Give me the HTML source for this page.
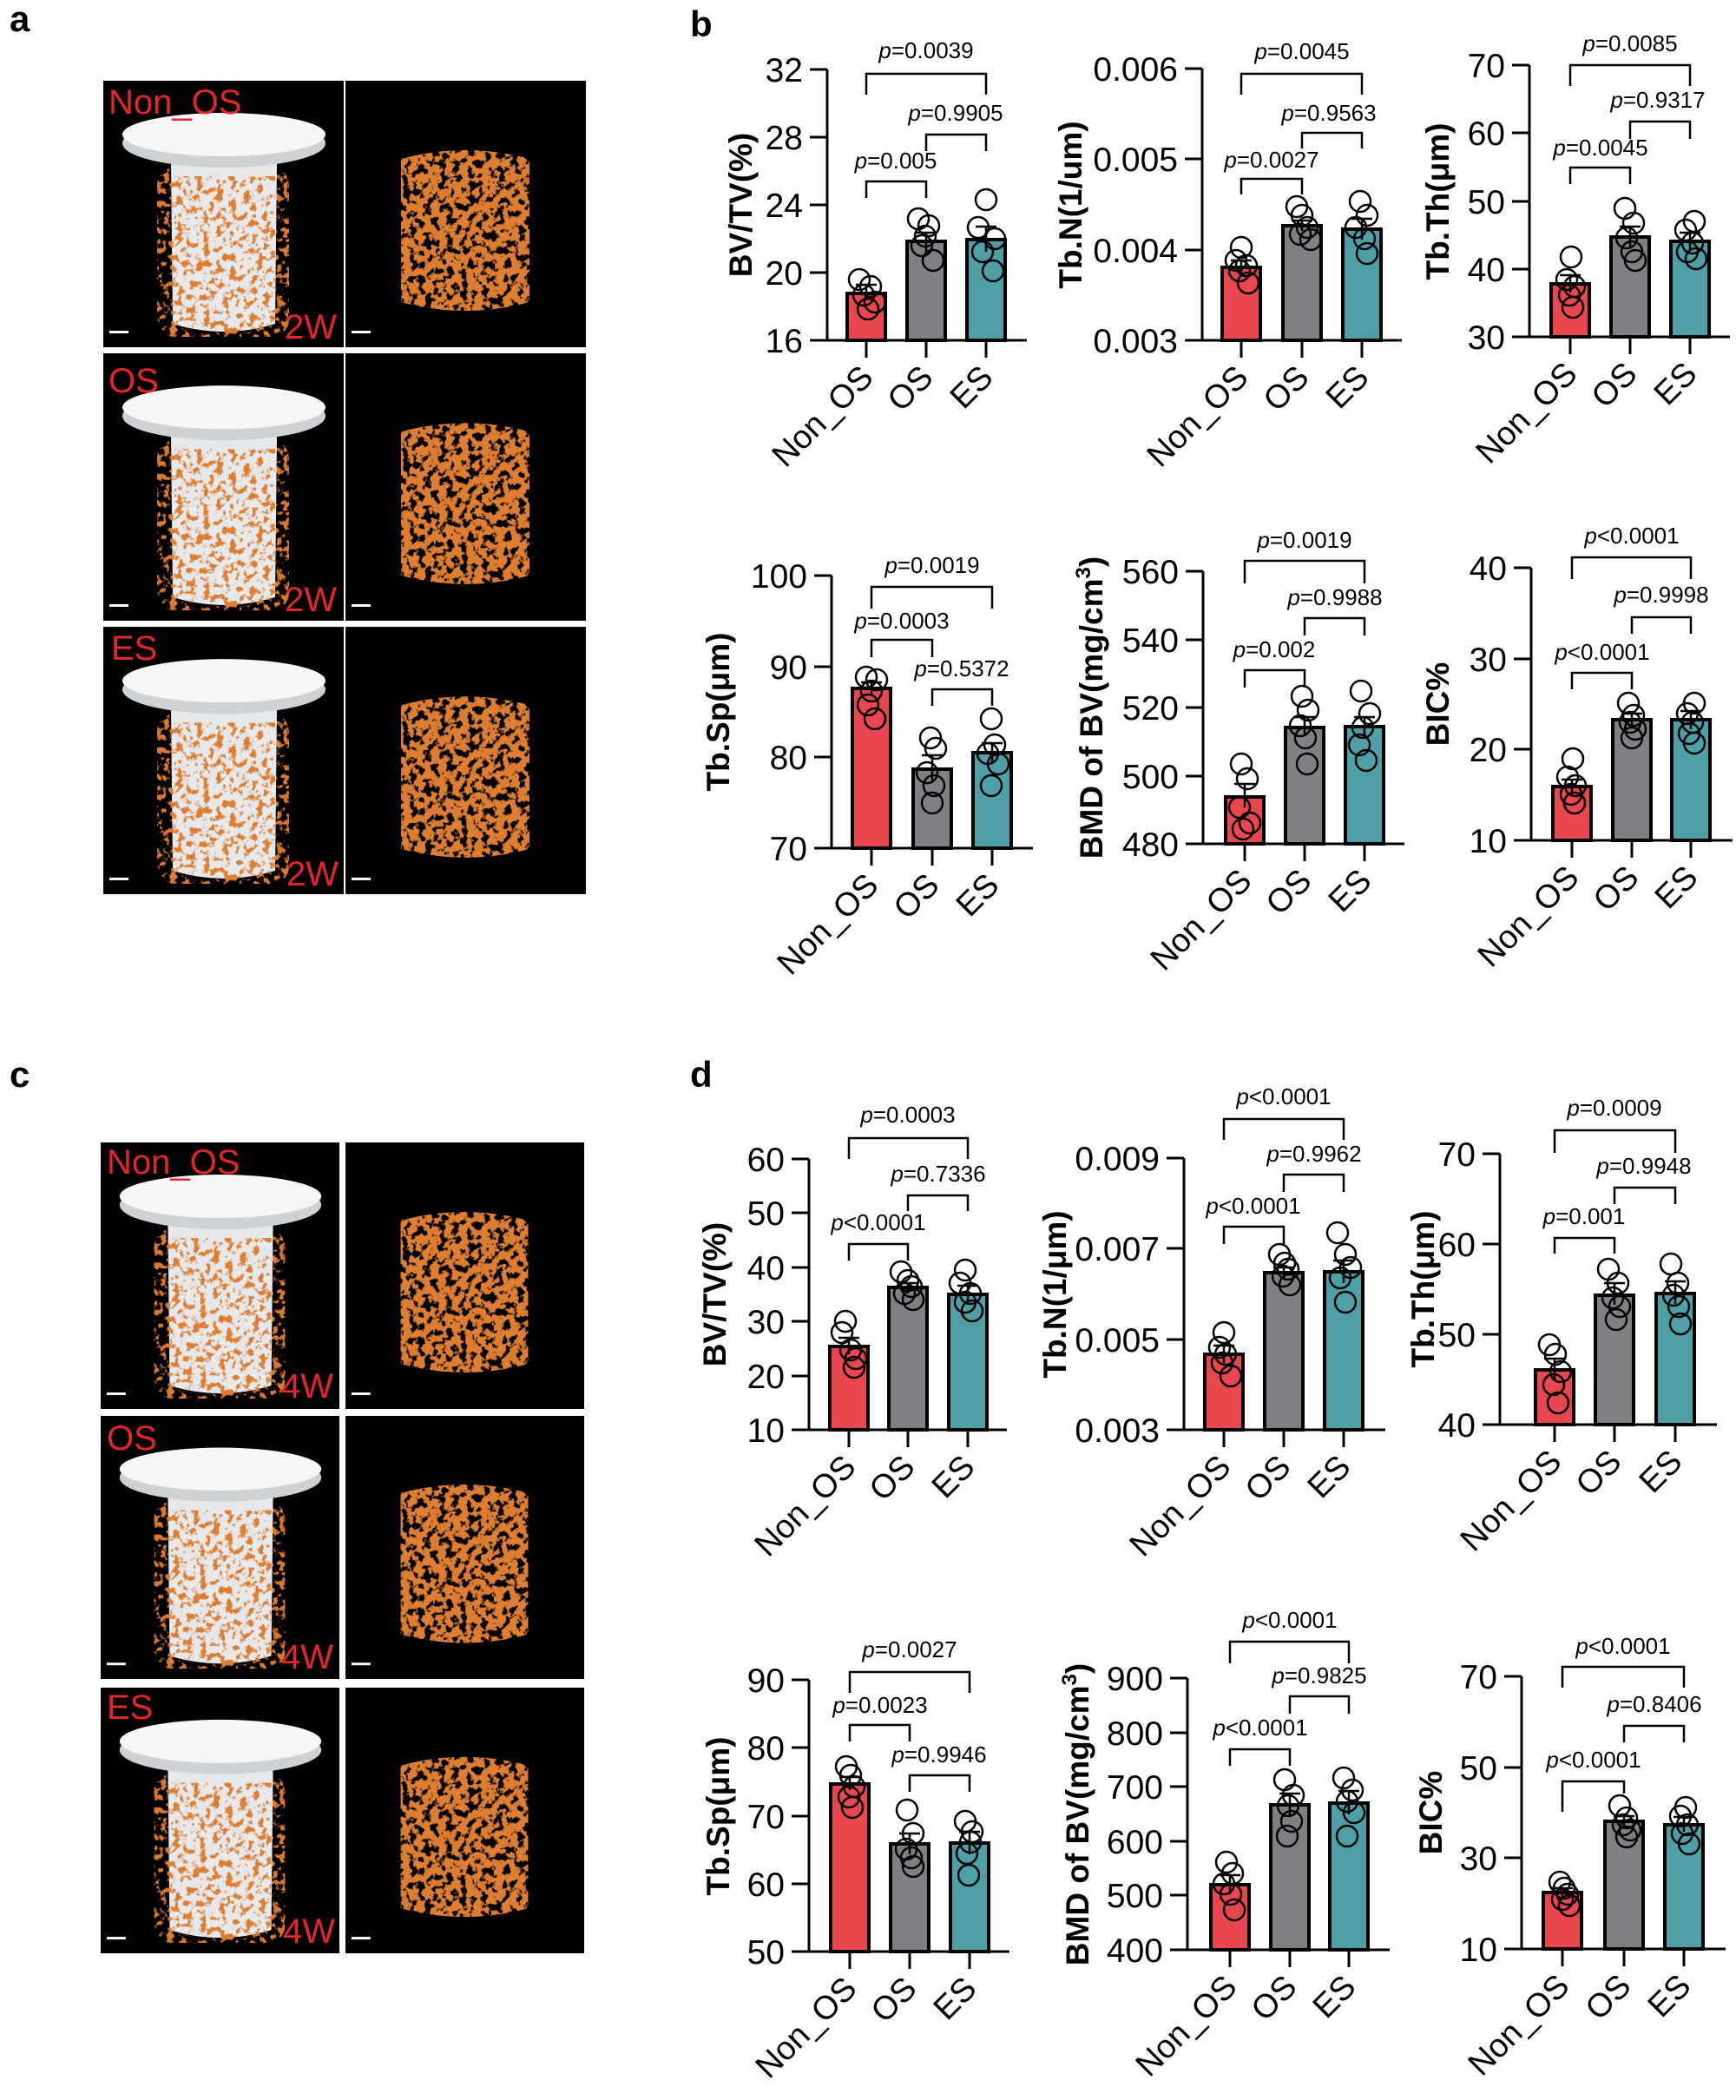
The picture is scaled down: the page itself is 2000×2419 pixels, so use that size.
<!DOCTYPE html>
<html><head><meta charset="utf-8"><style>
html,body{margin:0;padding:0;background:#fff;}
svg{display:block;}
text{font-family:"Liberation Sans",Arial,sans-serif;}
.t{font-size:39px;}
.pv{font-size:26px;}
.yl{font-size:37px;font-weight:bold;}
.xl{font-size:38px;}
.pl{font-size:42px;font-weight:bold;}
.il{font-size:40px;fill:#e3262b;}
.ax{stroke:#000;stroke-width:3;fill:none;}
.br{stroke:#000;stroke-width:2.5;fill:none;}
.pt{stroke:#000;stroke-width:2.5;fill:none;}
.r{fill:#e8474f;stroke:#000;stroke-width:4;}
.g{fill:#7f8083;stroke:#000;stroke-width:4;}
.c{fill:#4fa0a6;stroke:#000;stroke-width:4;}
</style></head><body>
<svg width="2000" height="2419" viewBox="0 0 2000 2419" xmlns="http://www.w3.org/2000/svg">
<defs>
<filter id="spk" x="0" y="0" width="1" height="1" filterUnits="objectBoundingBox">
<feTurbulence type="fractalNoise" baseFrequency="0.13" numOctaves="3" seed="4" result="n"/>
<feColorMatrix in="n" type="matrix" values="0 0 0 0 0 0 0 0 0 0 0 0 0 0 0 10 0 0 0 -5.2" result="m"/>
<feComposite in="SourceGraphic" in2="m" operator="in"/>
</filter>
<filter id="spk2" x="0" y="0" width="1" height="1" filterUnits="objectBoundingBox">
<feTurbulence type="fractalNoise" baseFrequency="0.12" numOctaves="3" seed="9" result="n"/>
<feColorMatrix in="n" type="matrix" values="0 0 0 0 0 0 0 0 0 0 0 0 0 0 0 10 0 0 0 -3.9" result="m"/>
<feComposite in="SourceGraphic" in2="m" operator="in"/>
</filter>
<symbol id="imL" viewBox="0 0 277 307" preserveAspectRatio="none">
<rect width="277" height="307" fill="#000"/>
<rect x="62" y="100" width="152" height="195" rx="20" fill="#d9782e" filter="url(#spk)"/>
<path d="M78 95 L200 95 L198 280 Q139 298 80 280 Z" fill="#e6e8ea"/>
<rect x="78" y="110" width="120" height="180" fill="#dd7e32" filter="url(#spk)"/>
<ellipse cx="139" cy="72" rx="117" ry="28" fill="#cfd2d4"/>
<ellipse cx="139" cy="62" rx="117" ry="25" fill="#f6f6f6"/>
<rect x="7" y="288" width="22" height="3" fill="#fff"/>
</symbol>
<symbol id="imR" viewBox="0 0 277 307" preserveAspectRatio="none">
<rect width="277" height="307" fill="#000"/>
<path d="M64 90 Q138 70 212 90 L212 255 Q138 275 64 255 Z" fill="#dd7e32" filter="url(#spk2)"/>
<rect x="7" y="288" width="22" height="3" fill="#fff"/>
</symbol>
</defs>

<text x="11" y="36" class="pl">a</text>
<text x="795" y="42" class="pl">b</text>
<text x="11" y="1252" class="pl">c</text>
<text x="795" y="1252" class="pl">d</text>

<use href="#imL" x="119" y="93" width="277" height="307"/>
<use href="#imR" x="398" y="93" width="277" height="307"/>
<use href="#imL" x="119" y="407" width="277" height="308"/>
<use href="#imR" x="398" y="407" width="277" height="308"/>
<use href="#imL" x="119" y="722" width="277" height="308"/>
<use href="#imR" x="398" y="722" width="277" height="308"/>
<text x="125" y="131" class="il">Non_OS</text>
<text x="388" y="390" class="il" text-anchor="end">2W</text>
<text x="125" y="452" class="il">OS</text>
<text x="388" y="704" class="il" text-anchor="end">2W</text>
<text x="128" y="760" class="il">ES</text>
<text x="390" y="1020" class="il" text-anchor="end">2W</text>

<use href="#imL" x="116" y="1316" width="275" height="307"/>
<use href="#imR" x="398" y="1316" width="275" height="307"/>
<use href="#imL" x="116" y="1631" width="275" height="303"/>
<use href="#imR" x="398" y="1631" width="275" height="303"/>
<use href="#imL" x="116" y="1944" width="275" height="306"/>
<use href="#imR" x="398" y="1944" width="275" height="306"/>
<text x="123" y="1352" class="il">Non_OS</text>
<text x="384" y="1610" class="il" text-anchor="end">4W</text>
<text x="123" y="1670" class="il">OS</text>
<text x="384" y="1922" class="il" text-anchor="end">4W</text>
<text x="123" y="1980" class="il">ES</text>
<text x="386" y="2238" class="il" text-anchor="end">4W</text>

<g>
<path class="ax" d="M953 80 V392 H1183 M933 80 H953 M933 158 H953 M933 236 H953 M933 314 H953 M933 392 H953 M998 392 V412 M1067 392 V412 M1136 392 V412"/>
<text class="t" text-anchor="end" x="925" y="94">32</text><text class="t" text-anchor="end" x="925" y="172">28</text><text class="t" text-anchor="end" x="925" y="250">24</text><text class="t" text-anchor="end" x="925" y="328">20</text><text class="t" text-anchor="end" x="925" y="406">16</text>
<rect class="r" x="976" y="338" width="44" height="54"/><rect class="g" x="1045" y="278" width="44" height="114"/><rect class="c" x="1114" y="276" width="44" height="116"/>
<path class="br" d="M986 328 H1010 M998 328 V345 M1055 268 H1079 M1067 268 V290 M1124 261 H1148 M1136 261 V290"/>
<g class="pt"><circle cx="990" cy="322" r="12"/><circle cx="1003" cy="330" r="12"/><circle cx="995" cy="340" r="12"/><circle cx="1008" cy="348" r="12"/><circle cx="1000" cy="356" r="12"/>
<circle cx="1058" cy="252" r="12"/><circle cx="1070" cy="260" r="12"/><circle cx="1062" cy="283" r="12"/><circle cx="1075" cy="300" r="12"/><circle cx="1066" cy="272" r="12"/>
<circle cx="1136" cy="230" r="12"/><circle cx="1127" cy="262" r="12"/><circle cx="1146" cy="275" r="12"/><circle cx="1132" cy="290" r="12"/><circle cx="1144" cy="312" r="12"/></g>
<path class="br" d="M998 109 V85 H1136 V109 M1067 174 V155 H1136 V174 M998 228 V209 H1067 V228"/>
<text class="pv" text-anchor="middle" x="1067" y="67"><tspan font-style="italic">p</tspan>=0.0039</text>
<text class="pv" text-anchor="middle" x="1101" y="139"><tspan font-style="italic">p</tspan>=0.9905</text>
<text class="pv" text-anchor="middle" x="1032" y="194"><tspan font-style="italic">p</tspan>=0.005</text>
<text class="yl" text-anchor="middle" transform="translate(866,236) rotate(-90)">BV/TV(%)</text>
<g class="xl" text-anchor="end"><text transform="translate(1008,437) rotate(-45)">Non_OS</text><text transform="translate(1077,437) rotate(-45)">OS</text><text transform="translate(1146,437) rotate(-45)">ES</text></g>
</g>

<g>
<path class="ax" d="M1385 79 V392 H1615 M1365 79 H1385 M1365 183 H1385 M1365 288 H1385 M1365 392 H1385 M1430 392 V412 M1500 392 V412 M1569 392 V412"/>
<text class="t" text-anchor="end" x="1357" y="93">0.006</text><text class="t" text-anchor="end" x="1357" y="197">0.005</text><text class="t" text-anchor="end" x="1357" y="302">0.004</text><text class="t" text-anchor="end" x="1357" y="406">0.003</text>
<rect class="r" x="1408" y="308" width="44" height="84"/><rect class="g" x="1478" y="260" width="44" height="132"/><rect class="c" x="1547" y="264" width="44" height="128"/>
<path class="br" d="M1418 300 H1442 M1430 300 V316 M1488 254 H1512 M1500 254 V266 M1557 252 H1581 M1569 252 V276"/>
<g class="pt"><circle cx="1430" cy="285" r="12"/><circle cx="1424" cy="300" r="12"/><circle cx="1436" cy="306" r="12"/><circle cx="1428" cy="312" r="12"/><circle cx="1438" cy="326" r="12"/>
<circle cx="1494" cy="238" r="12"/><circle cx="1500" cy="248" r="12"/><circle cx="1506" cy="262" r="12"/><circle cx="1498" cy="270" r="12"/><circle cx="1510" cy="276" r="12"/>
<circle cx="1567" cy="232" r="12"/><circle cx="1575" cy="248" r="12"/><circle cx="1562" cy="262" r="12"/><circle cx="1572" cy="275" r="12"/><circle cx="1575" cy="292" r="12"/></g>
<path class="br" d="M1430 109 V85 H1569 V109 M1500 171 V153 H1569 V171 M1430 224 V206 H1500 V224"/>
<text class="pv" text-anchor="middle" x="1500" y="68"><tspan font-style="italic">p</tspan>=0.0045</text>
<text class="pv" text-anchor="middle" x="1531" y="139"><tspan font-style="italic">p</tspan>=0.9563</text>
<text class="pv" text-anchor="middle" x="1465" y="193"><tspan font-style="italic">p</tspan>=0.0027</text>
<text class="yl" text-anchor="middle" transform="translate(1246,236) rotate(-90)">Tb.N(1/um)</text>
<g class="xl" text-anchor="end"><text transform="translate(1440,437) rotate(-45)">Non_OS</text><text transform="translate(1510,437) rotate(-45)">OS</text><text transform="translate(1579,437) rotate(-45)">ES</text></g>
</g>

<g>
<path class="ax" d="M1762 75 V388 H1993 M1742 75 H1762 M1742 153 H1762 M1742 232 H1762 M1742 310 H1762 M1742 388 H1762 M1809 388 V408 M1878 388 V408 M1947 388 V408"/>
<text class="t" text-anchor="end" x="1734" y="89">70</text><text class="t" text-anchor="end" x="1734" y="167">60</text><text class="t" text-anchor="end" x="1734" y="246">50</text><text class="t" text-anchor="end" x="1734" y="324">40</text><text class="t" text-anchor="end" x="1734" y="402">30</text>
<rect class="r" x="1787" y="327" width="44" height="61"/><rect class="g" x="1856" y="273" width="44" height="115"/><rect class="c" x="1925" y="278" width="44" height="110"/>
<path class="br" d="M1797 317 H1821 M1809 317 V337 M1866 261 H1890 M1878 261 V285 M1935 268 H1959 M1947 268 V288"/>
<g class="pt"><circle cx="1810" cy="296" r="12"/><circle cx="1805" cy="322" r="12"/><circle cx="1814" cy="330" r="12"/><circle cx="1808" cy="340" r="12"/><circle cx="1812" cy="354" r="12"/>
<circle cx="1872" cy="240" r="12"/><circle cx="1882" cy="257" r="12"/><circle cx="1874" cy="274" r="12"/><circle cx="1880" cy="290" r="12"/><circle cx="1884" cy="300" r="12"/>
<circle cx="1952" cy="255" r="12"/><circle cx="1942" cy="265" r="12"/><circle cx="1950" cy="280" r="12"/><circle cx="1944" cy="290" r="12"/><circle cx="1954" cy="298" r="12"/></g>
<path class="br" d="M1809 99 V75 H1947 V99 M1878 160 V140 H1947 V160 M1809 212 V193 H1878 V212"/>
<text class="pv" text-anchor="middle" x="1878" y="59"><tspan font-style="italic">p</tspan>=0.0085</text>
<text class="pv" text-anchor="middle" x="1910" y="124"><tspan font-style="italic">p</tspan>=0.9317</text>
<text class="pv" text-anchor="middle" x="1844" y="179"><tspan font-style="italic">p</tspan>=0.0045</text>
<text class="yl" text-anchor="middle" transform="translate(1669,232) rotate(-90)">Tb.Th(μm)</text>
<g class="xl" text-anchor="end"><text transform="translate(1819,433) rotate(-45)">Non_OS</text><text transform="translate(1888,433) rotate(-45)">OS</text><text transform="translate(1957,433) rotate(-45)">ES</text></g>
</g>

<g>
<path class="ax" d="M958 663 V977 H1190 M938 663 H958 M938 768 H958 M938 872 H958 M938 977 H958 M1004 977 V997 M1074 977 V997 M1143 977 V997"/>
<text class="t" text-anchor="end" x="930" y="677">100</text><text class="t" text-anchor="end" x="930" y="782">90</text><text class="t" text-anchor="end" x="930" y="886">80</text><text class="t" text-anchor="end" x="930" y="991">70</text>
<rect class="r" x="982" y="793" width="44" height="184"/><rect class="g" x="1052" y="886" width="44" height="91"/><rect class="c" x="1121" y="867" width="44" height="110"/>
<path class="br" d="M992 786 H1016 M1004 786 V800 M1062 870 H1086 M1074 870 V902 M1131 856 H1155 M1143 856 V878"/>
<g class="pt"><circle cx="998" cy="780" r="12"/><circle cx="1010" cy="783" r="12"/><circle cx="1004" cy="796" r="12"/><circle cx="1000" cy="812" r="12"/><circle cx="1008" cy="828" r="12"/>
<circle cx="1072" cy="850" r="12"/><circle cx="1078" cy="862" r="12"/><circle cx="1068" cy="890" r="12"/><circle cx="1076" cy="905" r="12"/><circle cx="1074" cy="925" r="12"/>
<circle cx="1142" cy="828" r="12"/><circle cx="1146" cy="858" r="12"/><circle cx="1138" cy="868" r="12"/><circle cx="1150" cy="880" r="12"/><circle cx="1142" cy="905" r="12"/></g>
<path class="br" d="M1004 701 V676 H1143 V701 M1004 757 V737 H1074 V757 M1074 813 V794 H1143 V813"/>
<text class="pv" text-anchor="middle" x="1074" y="660"><tspan font-style="italic">p</tspan>=0.0019</text>
<text class="pv" text-anchor="middle" x="1039" y="724"><tspan font-style="italic">p</tspan>=0.0003</text>
<text class="pv" text-anchor="middle" x="1108" y="779"><tspan font-style="italic">p</tspan>=0.5372</text>
<text class="yl" text-anchor="middle" transform="translate(840,820) rotate(-90)">Tb.Sp(μm)</text>
<g class="xl" text-anchor="end"><text transform="translate(1014,1022) rotate(-45)">Non_OS</text><text transform="translate(1084,1022) rotate(-45)">OS</text><text transform="translate(1153,1022) rotate(-45)">ES</text></g>
</g>

<g>
<path class="ax" d="M1386 658 V972 H1618 M1366 658 H1386 M1366 737 H1386 M1366 815 H1386 M1366 894 H1386 M1366 972 H1386 M1434 972 V992 M1503 972 V992 M1572 972 V992"/>
<text class="t" text-anchor="end" x="1358" y="672">560</text><text class="t" text-anchor="end" x="1358" y="751">540</text><text class="t" text-anchor="end" x="1358" y="829">520</text><text class="t" text-anchor="end" x="1358" y="908">500</text><text class="t" text-anchor="end" x="1358" y="986">480</text>
<rect class="r" x="1412" y="918" width="44" height="54"/><rect class="g" x="1481" y="838" width="44" height="134"/><rect class="c" x="1550" y="837" width="44" height="135"/>
<path class="br" d="M1422 903 H1446 M1434 903 V930 M1491 826 H1515 M1503 826 V848 M1560 826 H1584 M1572 826 V850"/>
<g class="pt"><circle cx="1430" cy="880" r="12"/><circle cx="1437" cy="897" r="12"/><circle cx="1428" cy="930" r="12"/><circle cx="1440" cy="948" r="12"/><circle cx="1432" cy="955" r="12"/>
<circle cx="1500" cy="802" r="12"/><circle cx="1507" cy="818" r="12"/><circle cx="1498" cy="836" r="12"/><circle cx="1504" cy="850" r="12"/><circle cx="1506" cy="880" r="12"/>
<circle cx="1568" cy="796" r="12"/><circle cx="1578" cy="822" r="12"/><circle cx="1570" cy="838" r="12"/><circle cx="1566" cy="858" r="12"/><circle cx="1574" cy="876" r="12"/></g>
<path class="br" d="M1434 672 V646 H1572 V672 M1503 732 V712 H1572 V732 M1434 792 V772 H1503 V792"/>
<text class="pv" text-anchor="middle" x="1503" y="631"><tspan font-style="italic">p</tspan>=0.0019</text>
<text class="pv" text-anchor="middle" x="1538" y="697"><tspan font-style="italic">p</tspan>=0.9988</text>
<text class="pv" text-anchor="middle" x="1468" y="757"><tspan font-style="italic">p</tspan>=0.002</text>
<text class="yl" text-anchor="middle" transform="translate(1270,815) rotate(-90)">BMD of BV(mg/cm<tspan dy="-14" font-size="24">3</tspan><tspan dy="14">)</tspan></text>
<g class="xl" text-anchor="end"><text transform="translate(1444,1017) rotate(-45)">Non_OS</text><text transform="translate(1513,1017) rotate(-45)">OS</text><text transform="translate(1582,1017) rotate(-45)">ES</text></g>
</g>

<g>
<path class="ax" d="M1764 654 V968 H1996 M1744 654 H1764 M1744 759 H1764 M1744 863 H1764 M1744 968 H1764 M1811 968 V988 M1880 968 V988 M1948 968 V988"/>
<text class="t" text-anchor="end" x="1736" y="668">40</text><text class="t" text-anchor="end" x="1736" y="773">30</text><text class="t" text-anchor="end" x="1736" y="877">20</text><text class="t" text-anchor="end" x="1736" y="982">10</text>
<rect class="r" x="1789" y="906" width="44" height="62"/><rect class="g" x="1858" y="829" width="44" height="139"/><rect class="c" x="1926" y="829" width="44" height="139"/>
<path class="br" d="M1799 898 H1823 M1811 898 V914 M1868 822 H1892 M1880 822 V836 M1936 819 H1960 M1948 819 V840"/>
<g class="pt"><circle cx="1812" cy="874" r="12"/><circle cx="1806" cy="895" r="12"/><circle cx="1815" cy="905" r="12"/><circle cx="1810" cy="915" r="12"/><circle cx="1814" cy="925" r="12"/>
<circle cx="1876" cy="810" r="12"/><circle cx="1882" cy="824" r="12"/><circle cx="1878" cy="832" r="12"/><circle cx="1884" cy="840" r="12"/><circle cx="1880" cy="850" r="12"/>
<circle cx="1952" cy="810" r="12"/><circle cx="1944" cy="822" r="12"/><circle cx="1950" cy="832" r="12"/><circle cx="1946" cy="845" r="12"/><circle cx="1952" cy="856" r="12"/></g>
<path class="br" d="M1811 667 V642 H1948 V667 M1880 730 V711 H1948 V730 M1811 794 V775 H1880 V794"/>
<text class="pv" text-anchor="middle" x="1880" y="626"><tspan font-style="italic">p</tspan>&lt;0.0001</text>
<text class="pv" text-anchor="middle" x="1914" y="694"><tspan font-style="italic">p</tspan>=0.9998</text>
<text class="pv" text-anchor="middle" x="1846" y="760"><tspan font-style="italic">p</tspan>&lt;0.0001</text>
<text class="yl" text-anchor="middle" transform="translate(1669,811) rotate(-90)">BIC%</text>
<g class="xl" text-anchor="end"><text transform="translate(1821,1013) rotate(-45)">Non_OS</text><text transform="translate(1890,1013) rotate(-45)">OS</text><text transform="translate(1958,1013) rotate(-45)">ES</text></g>
</g>

<g>
<path class="ax" d="M932 1335 V1647 H1160 M912 1335 H932 M912 1397 H932 M912 1460 H932 M912 1522 H932 M912 1585 H932 M912 1647 H932 M978 1647 V1667 M1046 1647 V1667 M1115 1647 V1667"/>
<text class="t" text-anchor="end" x="904" y="1349">60</text><text class="t" text-anchor="end" x="904" y="1411">50</text><text class="t" text-anchor="end" x="904" y="1474">40</text><text class="t" text-anchor="end" x="904" y="1536">30</text><text class="t" text-anchor="end" x="904" y="1599">20</text><text class="t" text-anchor="end" x="904" y="1661">10</text>
<rect class="r" x="956" y="1551" width="44" height="96"/><rect class="g" x="1024" y="1483" width="44" height="164"/><rect class="c" x="1093" y="1491" width="44" height="156"/>
<path class="br" d="M966 1541 H990 M978 1541 V1560 M1034 1478 H1058 M1046 1478 V1490 M1103 1481 H1127 M1115 1481 V1500"/>
<g class="pt"><circle cx="974" cy="1522" r="12"/><circle cx="970" cy="1535" r="12"/><circle cx="980" cy="1555" r="12"/><circle cx="986" cy="1565" r="12"/><circle cx="984" cy="1575" r="12"/>
<circle cx="1038" cy="1465" r="12"/><circle cx="1046" cy="1475" r="12"/><circle cx="1050" cy="1482" r="12"/><circle cx="1042" cy="1490" r="12"/><circle cx="1052" cy="1497" r="12"/>
<circle cx="1112" cy="1463" r="12"/><circle cx="1106" cy="1478" r="12"/><circle cx="1118" cy="1490" r="12"/><circle cx="1112" cy="1500" r="12"/><circle cx="1120" cy="1510" r="12"/></g>
<path class="br" d="M978 1335 V1311 H1115 V1335 M1046 1395 V1377 H1115 V1395 M978 1452 V1433 H1046 V1452"/>
<text class="pv" text-anchor="middle" x="1046" y="1293"><tspan font-style="italic">p</tspan>=0.0003</text>
<text class="pv" text-anchor="middle" x="1081" y="1361"><tspan font-style="italic">p</tspan>=0.7336</text>
<text class="pv" text-anchor="middle" x="1012" y="1417"><tspan font-style="italic">p</tspan>&lt;0.0001</text>
<text class="yl" text-anchor="middle" transform="translate(836,1491) rotate(-90)">BV/TV(%)</text>
<g class="xl" text-anchor="end"><text transform="translate(988,1692) rotate(-45)">Non_OS</text><text transform="translate(1056,1692) rotate(-45)">OS</text><text transform="translate(1125,1692) rotate(-45)">ES</text></g>
</g>

<g>
<path class="ax" d="M1364 1334 V1647 H1596 M1344 1334 H1364 M1344 1438 H1364 M1344 1543 H1364 M1344 1647 H1364 M1410 1647 V1667 M1479 1647 V1667 M1548 1647 V1667"/>
<text class="t" text-anchor="end" x="1336" y="1348">0.009</text><text class="t" text-anchor="end" x="1336" y="1452">0.007</text><text class="t" text-anchor="end" x="1336" y="1557">0.005</text><text class="t" text-anchor="end" x="1336" y="1661">0.003</text>
<rect class="r" x="1388" y="1560" width="44" height="87"/><rect class="g" x="1457" y="1466" width="44" height="181"/><rect class="c" x="1526" y="1465" width="44" height="182"/>
<path class="br" d="M1398 1550 H1422 M1410 1550 V1570 M1467 1460 H1491 M1479 1460 V1472 M1536 1452 H1560 M1548 1452 V1478"/>
<g class="pt"><circle cx="1410" cy="1535" r="12"/><circle cx="1405" cy="1552" r="12"/><circle cx="1412" cy="1560" r="12"/><circle cx="1408" cy="1570" r="12"/><circle cx="1418" cy="1585" r="12"/>
<circle cx="1474" cy="1445" r="12"/><circle cx="1480" cy="1455" r="12"/><circle cx="1484" cy="1462" r="12"/><circle cx="1478" cy="1470" r="12"/><circle cx="1486" cy="1480" r="12"/>
<circle cx="1541" cy="1420" r="12"/><circle cx="1550" cy="1445" r="12"/><circle cx="1556" cy="1460" r="12"/><circle cx="1544" cy="1472" r="12"/><circle cx="1550" cy="1500" r="12"/></g>
<path class="br" d="M1410 1313 V1289 H1548 V1313 M1479 1373 V1353 H1548 V1373 M1410 1433 V1413 H1479 V1433"/>
<text class="pv" text-anchor="middle" x="1479" y="1272"><tspan font-style="italic">p</tspan>&lt;0.0001</text>
<text class="pv" text-anchor="middle" x="1514" y="1338"><tspan font-style="italic">p</tspan>=0.9962</text>
<text class="pv" text-anchor="middle" x="1444" y="1398"><tspan font-style="italic">p</tspan>&lt;0.0001</text>
<text class="yl" text-anchor="middle" transform="translate(1228,1491) rotate(-90)">Tb.N(1/μm)</text>
<g class="xl" text-anchor="end"><text transform="translate(1420,1692) rotate(-45)">Non_OS</text><text transform="translate(1489,1692) rotate(-45)">OS</text><text transform="translate(1558,1692) rotate(-45)">ES</text></g>
</g>

<g>
<path class="ax" d="M1728 1329 V1641 H1978 M1708 1329 H1728 M1708 1433 H1728 M1708 1537 H1728 M1708 1641 H1728 M1791 1641 V1661 M1860 1641 V1661 M1930 1641 V1661"/>
<text class="t" text-anchor="end" x="1700" y="1343">70</text><text class="t" text-anchor="end" x="1700" y="1447">60</text><text class="t" text-anchor="end" x="1700" y="1551">50</text><text class="t" text-anchor="end" x="1700" y="1655">40</text>
<rect class="r" x="1769" y="1578" width="44" height="63"/><rect class="g" x="1838" y="1492" width="44" height="149"/><rect class="c" x="1908" y="1490" width="44" height="151"/>
<path class="br" d="M1779 1565 H1803 M1791 1565 V1590 M1848 1478 H1872 M1860 1478 V1503 M1918 1476 H1942 M1930 1476 V1502"/>
<g class="pt"><circle cx="1785" cy="1549" r="12"/><circle cx="1792" cy="1560" r="12"/><circle cx="1798" cy="1580" r="12"/><circle cx="1790" cy="1595" r="12"/><circle cx="1795" cy="1616" r="12"/>
<circle cx="1853" cy="1462" r="12"/><circle cx="1864" cy="1478" r="12"/><circle cx="1858" cy="1495" r="12"/><circle cx="1866" cy="1505" r="12"/><circle cx="1862" cy="1520" r="12"/>
<circle cx="1925" cy="1456" r="12"/><circle cx="1933" cy="1478" r="12"/><circle cx="1928" cy="1492" r="12"/><circle cx="1934" cy="1505" r="12"/><circle cx="1936" cy="1525" r="12"/></g>
<path class="br" d="M1791 1328 V1302 H1930 V1328 M1860 1387 V1368 H1930 V1387 M1791 1444 V1426 H1860 V1444"/>
<text class="pv" text-anchor="middle" x="1860" y="1285"><tspan font-style="italic">p</tspan>=0.0009</text>
<text class="pv" text-anchor="middle" x="1894" y="1352"><tspan font-style="italic">p</tspan>=0.9948</text>
<text class="pv" text-anchor="middle" x="1825" y="1410"><tspan font-style="italic">p</tspan>=0.001</text>
<text class="yl" text-anchor="middle" transform="translate(1652,1485) rotate(-90)">Tb.Th(μm)</text>
<g class="xl" text-anchor="end"><text transform="translate(1801,1686) rotate(-45)">Non_OS</text><text transform="translate(1870,1686) rotate(-45)">OS</text><text transform="translate(1940,1686) rotate(-45)">ES</text></g>
</g>

<g>
<path class="ax" d="M932 1935 V2248 H1163 M912 1935 H932 M912 2013 H932 M912 2092 H932 M912 2170 H932 M912 2248 H932 M979 2248 V2268 M1048 2248 V2268 M1117 2248 V2268"/>
<text class="t" text-anchor="end" x="904" y="1949">90</text><text class="t" text-anchor="end" x="904" y="2027">80</text><text class="t" text-anchor="end" x="904" y="2106">70</text><text class="t" text-anchor="end" x="904" y="2184">60</text><text class="t" text-anchor="end" x="904" y="2262">50</text>
<rect class="r" x="957" y="2055" width="44" height="193"/><rect class="g" x="1026" y="2124" width="44" height="124"/><rect class="c" x="1095" y="2123" width="44" height="125"/>
<path class="br" d="M967 2047 H991 M979 2047 V2062 M1036 2112 H1060 M1048 2112 V2136 M1105 2110 H1129 M1117 2110 V2136"/>
<g class="pt"><circle cx="975" cy="2035" r="12"/><circle cx="980" cy="2045" r="12"/><circle cx="984" cy="2058" r="12"/><circle cx="978" cy="2070" r="12"/><circle cx="982" cy="2082" r="12"/>
<circle cx="1045" cy="2085" r="12"/><circle cx="1052" cy="2112" r="12"/><circle cx="1044" cy="2130" r="12"/><circle cx="1050" cy="2140" r="12"/><circle cx="1052" cy="2150" r="12"/>
<circle cx="1112" cy="2098" r="12"/><circle cx="1120" cy="2110" r="12"/><circle cx="1118" cy="2122" r="12"/><circle cx="1114" cy="2135" r="12"/><circle cx="1116" cy="2160" r="12"/></g>
<path class="br" d="M979 1950 V1926 H1117 V1950 M979 2006 V1987 H1048 V2006 M1048 2064 V2045 H1117 V2064"/>
<text class="pv" text-anchor="middle" x="1048" y="1909"><tspan font-style="italic">p</tspan>=0.0027</text>
<text class="pv" text-anchor="middle" x="1014" y="1973"><tspan font-style="italic">p</tspan>=0.0023</text>
<text class="pv" text-anchor="middle" x="1082" y="2030"><tspan font-style="italic">p</tspan>=0.9946</text>
<text class="yl" text-anchor="middle" transform="translate(840,2092) rotate(-90)">Tb.Sp(μm)</text>
<g class="xl" text-anchor="end"><text transform="translate(989,2293) rotate(-45)">Non_OS</text><text transform="translate(1058,2293) rotate(-45)">OS</text><text transform="translate(1127,2293) rotate(-45)">ES</text></g>
</g>

<g>
<path class="ax" d="M1368 1933 V2246 H1601 M1348 1933 H1368 M1348 1996 H1368 M1348 2058 H1368 M1348 2121 H1368 M1348 2183 H1368 M1348 2246 H1368 M1417 2246 V2266 M1486 2246 V2266 M1554 2246 V2266"/>
<text class="t" text-anchor="end" x="1340" y="1947">900</text><text class="t" text-anchor="end" x="1340" y="2010">800</text><text class="t" text-anchor="end" x="1340" y="2072">700</text><text class="t" text-anchor="end" x="1340" y="2135">600</text><text class="t" text-anchor="end" x="1340" y="2197">500</text><text class="t" text-anchor="end" x="1340" y="2260">400</text>
<rect class="r" x="1395" y="2171" width="44" height="75"/><rect class="g" x="1464" y="2079" width="44" height="167"/><rect class="c" x="1532" y="2077" width="44" height="169"/>
<path class="br" d="M1405 2160 H1429 M1417 2160 V2182 M1474 2066 H1498 M1486 2066 V2092 M1542 2063 H1566 M1554 2063 V2090"/>
<g class="pt"><circle cx="1413" cy="2145" r="12"/><circle cx="1420" cy="2158" r="12"/><circle cx="1410" cy="2170" r="12"/><circle cx="1418" cy="2182" r="12"/><circle cx="1422" cy="2200" r="12"/>
<circle cx="1480" cy="2050" r="12"/><circle cx="1490" cy="2068" r="12"/><circle cx="1484" cy="2080" r="12"/><circle cx="1488" cy="2098" r="12"/><circle cx="1483" cy="2115" r="12"/>
<circle cx="1548" cy="2048" r="12"/><circle cx="1558" cy="2062" r="12"/><circle cx="1552" cy="2075" r="12"/><circle cx="1560" cy="2088" r="12"/><circle cx="1552" cy="2115" r="12"/></g>
<path class="br" d="M1417 1916 V1891 H1554 V1916 M1486 1974 V1954 H1554 V1974 M1417 2034 V2015 H1486 V2034"/>
<text class="pv" text-anchor="middle" x="1486" y="1875"><tspan font-style="italic">p</tspan>&lt;0.0001</text>
<text class="pv" text-anchor="middle" x="1520" y="1939"><tspan font-style="italic">p</tspan>=0.9825</text>
<text class="pv" text-anchor="middle" x="1452" y="1999"><tspan font-style="italic">p</tspan>&lt;0.0001</text>
<text class="yl" text-anchor="middle" transform="translate(1254,2090) rotate(-90)">BMD of BV(mg/cm<tspan dy="-14" font-size="24">3</tspan><tspan dy="14">)</tspan></text>
<g class="xl" text-anchor="end"><text transform="translate(1427,2291) rotate(-45)">Non_OS</text><text transform="translate(1496,2291) rotate(-45)">OS</text><text transform="translate(1564,2291) rotate(-45)">ES</text></g>
</g>

<g>
<path class="ax" d="M1753 1931 V2245 H1988 M1733 1931 H1753 M1733 2036 H1753 M1733 2140 H1753 M1733 2245 H1753 M1800 2245 V2265 M1871 2245 V2265 M1940 2245 V2265"/>
<text class="t" text-anchor="end" x="1725" y="1945">70</text><text class="t" text-anchor="end" x="1725" y="2050">50</text><text class="t" text-anchor="end" x="1725" y="2154">30</text><text class="t" text-anchor="end" x="1725" y="2259">10</text>
<rect class="r" x="1778" y="2180" width="44" height="65"/><rect class="g" x="1849" y="2098" width="44" height="147"/><rect class="c" x="1918" y="2102" width="44" height="143"/>
<path class="br" d="M1788 2175 H1812 M1800 2175 V2186 M1859 2092 H1883 M1871 2092 V2104 M1928 2093 H1952 M1940 2093 V2110"/>
<g class="pt"><circle cx="1797" cy="2168" r="12"/><circle cx="1802" cy="2175" r="12"/><circle cx="1806" cy="2182" r="12"/><circle cx="1800" cy="2188" r="12"/><circle cx="1808" cy="2195" r="12"/>
<circle cx="1866" cy="2080" r="12"/><circle cx="1874" cy="2094" r="12"/><circle cx="1870" cy="2102" r="12"/><circle cx="1878" cy="2108" r="12"/><circle cx="1874" cy="2116" r="12"/>
<circle cx="1942" cy="2082" r="12"/><circle cx="1936" cy="2092" r="12"/><circle cx="1944" cy="2102" r="12"/><circle cx="1938" cy="2112" r="12"/><circle cx="1946" cy="2124" r="12"/></g>
<path class="br" d="M1800 1944 V1920 H1940 V1944 M1871 2007 V1988 H1940 V2007 M1800 2087 V2052 H1871 V2066"/>
<text class="pv" text-anchor="middle" x="1870" y="1905"><tspan font-style="italic">p</tspan>&lt;0.0001</text>
<text class="pv" text-anchor="middle" x="1906" y="1972"><tspan font-style="italic">p</tspan>=0.8406</text>
<text class="pv" text-anchor="middle" x="1836" y="2036"><tspan font-style="italic">p</tspan>&lt;0.0001</text>
<text class="yl" text-anchor="middle" transform="translate(1661,2088) rotate(-90)">BIC%</text>
<g class="xl" text-anchor="end"><text transform="translate(1810,2290) rotate(-45)">Non_OS</text><text transform="translate(1881,2290) rotate(-45)">OS</text><text transform="translate(1950,2290) rotate(-45)">ES</text></g>
</g>
</svg>
</body></html>
